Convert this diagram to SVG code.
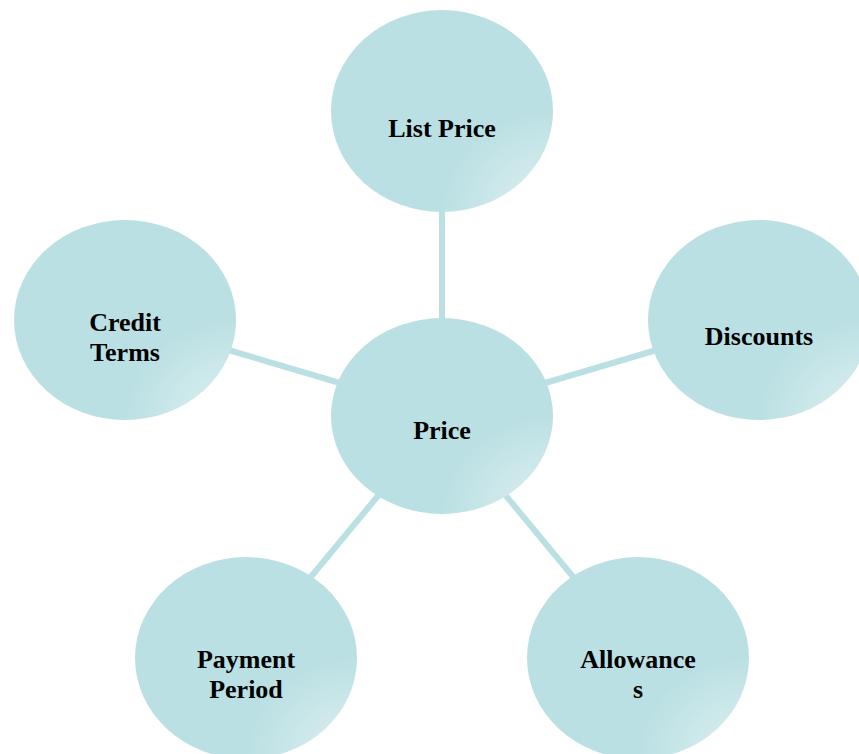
<svg xmlns="http://www.w3.org/2000/svg" width="859" height="754" viewBox="0 0 859 754">
<defs>
<radialGradient id="sheen" cx="1" cy="1" r="0.5" fx="1" fy="1">
<stop offset="0" stop-color="#ffffff" stop-opacity="0.55"/>
<stop offset="1" stop-color="#ffffff" stop-opacity="0"/>
</radialGradient>
</defs>
<style>
.node{fill:#BBE0E3;}
.sheen{fill:url(#sheen);}
.lbl{font-family:"Liberation Serif","Times New Roman",serif;font-weight:bold;font-size:26px;fill:#000;text-anchor:middle;}
.conn{stroke:#BBE0E3;stroke-width:6;fill:none;}
</style>
<rect width="859" height="754" fill="#ffffff"/>
<g id="connectors">
<line class="conn" x1="442" y1="205" x2="442" y2="325"/>
<line class="conn" x1="225" y1="349" x2="340" y2="383"/>
<line class="conn" x1="660" y1="349" x2="545" y2="383"/>
<line class="conn" x1="305" y1="584" x2="382" y2="491"/>
<line class="conn" x1="579" y1="584" x2="502" y2="491"/>
</g>
<g id="list-price">
<ellipse class="node" cx="442" cy="111" rx="111" ry="101"/>
<ellipse class="sheen" cx="442" cy="111" rx="111" ry="101"/>
<text class="lbl" x="442" y="137">List Price</text>
</g>
<g id="price">
<ellipse class="node" cx="442" cy="416" rx="111" ry="98"/>
<ellipse class="sheen" cx="442" cy="416" rx="111" ry="98"/>
<text class="lbl" x="442" y="439">Price</text>
</g>
<g id="discounts">
<ellipse class="node" cx="759" cy="320" rx="111" ry="100"/>
<ellipse class="sheen" cx="759" cy="320" rx="111" ry="100"/>
<text class="lbl" x="759" y="345">Discounts</text>
</g>
<g id="credit-terms">
<ellipse class="node" cx="125" cy="320" rx="111" ry="100"/>
<ellipse class="sheen" cx="125" cy="320" rx="111" ry="100"/>
<text class="lbl" x="125" y="331">Credit</text>
<text class="lbl" x="125" y="361">Terms</text>
</g>
<g id="payment-period">
<ellipse class="node" cx="246" cy="658" rx="111" ry="101"/>
<ellipse class="sheen" cx="246" cy="658" rx="111" ry="101"/>
<text class="lbl" x="246" y="668">Payment</text>
<text class="lbl" x="246" y="698">Period</text>
</g>
<g id="allowances">
<ellipse class="node" cx="638" cy="658" rx="111" ry="101"/>
<ellipse class="sheen" cx="638" cy="658" rx="111" ry="101"/>
<text class="lbl" x="638" y="668">Allowance</text>
<text class="lbl" x="638" y="698">s</text>
</g>
</svg>
